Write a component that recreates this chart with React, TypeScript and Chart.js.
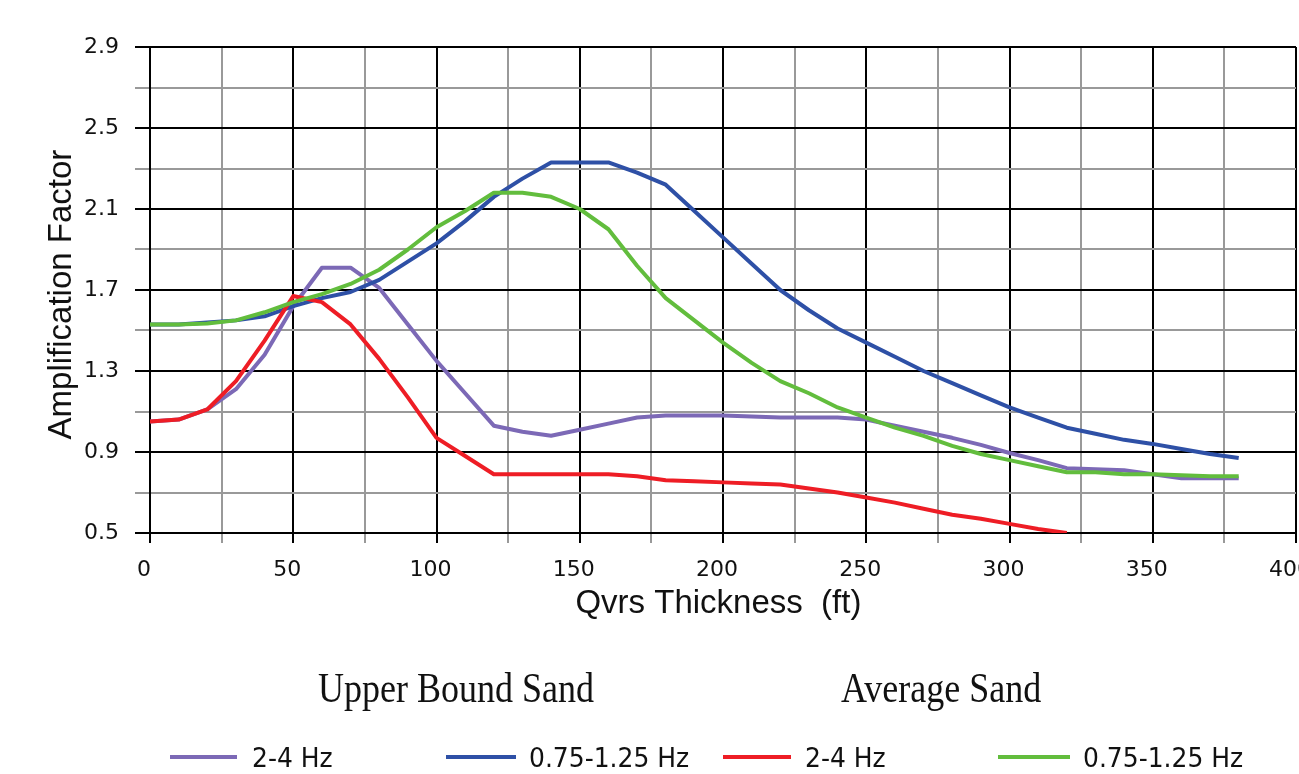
import React, { useEffect, useRef } from "react";
import { Chart, registerables } from "chart.js";

Chart.register(...registerables);

// Qvrs thickness (ft) sample positions
const thickness = [
  0, 10, 20, 30, 40, 50, 60, 70, 80, 90, 100, 110, 120, 130, 140, 150, 160, 170, 180, 190,
  200, 210, 220, 230, 240, 250, 260, 270, 280, 290, 300, 310, 320, 330, 340, 350, 360, 370, 380,
];
const averageThickness = [
  0, 10, 20, 30, 40, 50, 60, 70, 80, 90, 100, 110, 120, 130, 140, 150, 160, 170, 180, 190,
  200, 210, 220, 230, 240, 250, 260, 270, 280, 290, 300, 310, 320,
];

// Upper Bound Sand, 2-4 Hz
const upper24 = [
  1.05, 1.06, 1.11, 1.21, 1.38, 1.62, 1.81, 1.81, 1.71, 1.53, 1.35, 1.19, 1.03, 1.0, 0.98,
  1.01, 1.04, 1.07, 1.08, 1.08, 1.08, 1.075, 1.07, 1.07, 1.07, 1.06, 1.03, 1.0, 0.97, 0.935,
  0.895, 0.86, 0.82, 0.815, 0.81, 0.79, 0.77, 0.77, 0.77,
];
// Upper Bound Sand, 0.75-1.25 Hz
const upper075 = [
  1.53, 1.53, 1.54, 1.55, 1.57, 1.62, 1.66, 1.69, 1.75, 1.84, 1.93, 2.04, 2.16, 2.25, 2.33,
  2.33, 2.33, 2.28, 2.22, 2.09, 1.96, 1.83, 1.7, 1.6, 1.51, 1.44, 1.37, 1.3, 1.24, 1.18, 1.12,
  1.07, 1.02, 0.99, 0.96, 0.94, 0.915, 0.89, 0.87,
];
// Average Sand, 2-4 Hz
const average24 = [
  1.05, 1.06, 1.11, 1.25, 1.45, 1.67, 1.64, 1.53, 1.36, 1.17, 0.97, 0.88, 0.79, 0.79, 0.79,
  0.79, 0.79, 0.78, 0.76, 0.755, 0.75, 0.745, 0.74, 0.72, 0.7, 0.675, 0.65, 0.62, 0.59, 0.57,
  0.545, 0.52, 0.5,
];
// Average Sand, 0.75-1.25 Hz
const average075 = [
  1.53, 1.53, 1.535, 1.55, 1.59, 1.64, 1.68, 1.73, 1.8, 1.9, 2.01, 2.09, 2.18, 2.18, 2.16,
  2.1, 2.0, 1.82, 1.66, 1.55, 1.44, 1.34, 1.25, 1.19, 1.12, 1.07, 1.02, 0.98, 0.93, 0.89,
  0.86, 0.83, 0.8, 0.8, 0.79, 0.79, 0.785, 0.78, 0.78,
];

const seriesLabels = ["2-4 Hz", "0.75-1.25 Hz", "2-4 Hz", "0.75-1.25 Hz"];
const groupTitles = ["Upper Bound Sand", "Average Sand"];
const xTitle = "Qvrs Thickness  (ft) ";
const yTitle = "Amplification Factor ";

const COLORS = ["#7c69b6", "#2e50a6", "#ee1d25", "#62bd3d"];

const toPoints = (xs: number[], ys: number[]) => ys.map((y, i) => ({ x: xs[i], y }));

const legendPlugin = {
  id: "customLegend",
  afterDraw(chart: any) {
    const ctx = chart.ctx as CanvasRenderingContext2D;
    ctx.save();
    // group titles
    ctx.fillStyle = "#111";
    ctx.font = "36px 'Liberation Serif'";
    ctx.textAlign = "center";
    ctx.textBaseline = "alphabetic";
    const groupCenters = [456, 941];
    groupTitles.forEach((t, i) => {
      ctx.save();
      ctx.translate(groupCenters[i], 702);
      ctx.scale(1, 1.18);
      ctx.fillText(t, 0, 0);
      ctx.restore();
    });
    // legend items
    const items = [
      { l0: 170, l1: 237, tx: 252 },
      { l0: 446, l1: 516, tx: 529 },
      { l0: 723, l1: 791, tx: 805 },
      { l0: 998, l1: 1070, tx: 1083 },
    ];
    ctx.font = "25px 'DejaVu Sans'";
    ctx.textAlign = "left";
    chart.data.datasets.forEach((ds: any, i: number) => {
      const it = items[i];
      ctx.strokeStyle = ds.borderColor;
      ctx.lineWidth = 4;
      ctx.beginPath();
      ctx.moveTo(it.l0, 757);
      ctx.lineTo(it.l1, 757);
      ctx.stroke();
      ctx.fillStyle = "#111";
      ctx.save();
      ctx.translate(it.tx, 767);
      ctx.scale(1, 1.06);
      ctx.fillText(ds.label, 0, 0);
      ctx.restore();
    });
    ctx.restore();
  },
};

export default function App() {
  const ref = useRef<HTMLCanvasElement>(null);
  useEffect(() => {
    const canvas = ref.current;
    if (!canvas) return;
    const chart = new Chart(canvas, {
      type: "line",
      data: {
        datasets: [
          { label: seriesLabels[0], data: toPoints(thickness, upper24), borderColor: COLORS[0], order: 3 },
          { label: seriesLabels[1], data: toPoints(thickness, upper075), borderColor: COLORS[1], order: 2 },
          { label: seriesLabels[2], data: toPoints(averageThickness, average24), borderColor: COLORS[2], order: 1 },
          { label: seriesLabels[3], data: toPoints(thickness, average075), borderColor: COLORS[3], order: 0 },
        ].map((d) => ({
          ...d,
          backgroundColor: d.borderColor,
          borderWidth: 4,
          pointRadius: 0,
          tension: 0,
          fill: false,
          borderJoinStyle: "round" as const,
        })),
      },
      options: {
        responsive: false,
        animation: false,
        devicePixelRatio: 1,
        layout: { padding: { left: 0, top: 47, right: 28, bottom: 141 } },
        plugins: { legend: { display: false }, tooltip: { enabled: false } },
        scales: {
          x: {
            type: "linear",
            min: 0,
            max: 400,
            afterFit: (s: any) => {
              s.height = 100;
            },
            ticks: {
              stepSize: 25,
              autoSkip: false,
              maxRotation: 0,
              labelOffset: -6,
              padding: 14,
              color: "#111",
              font: { family: "'DejaVu Sans'", size: 22 },
              callback: (v: any, i: number) => (i % 2 === 0 ? String(v) : ""),
            },
            grid: {
              color: (c: any) => (c.index % 2 === 0 ? "#000" : "#999"),
              lineWidth: 2,
              tickLength: 10,
            },
            border: { color: "#000", width: 2 },
            title: {
              display: true,
              text: xTitle,
              color: "#111",
              font: { family: "'Liberation Sans'", size: 33 },
              padding: { top: 0, bottom: 9 },
            },
          },
          y: {
            type: "linear",
            min: 0.5,
            max: 2.9,
            afterFit: (s: any) => {
              s.width = 150;
            },
            ticks: {
              stepSize: 0.2,
              autoSkip: false,
              padding: 16,
              color: "#111",
              font: { family: "'DejaVu Sans'", size: 22 },
              callback: (v: any, i: number) => (i % 2 === 0 ? Number(v).toFixed(1) : ""),
            },
            grid: {
              color: (c: any) => (c.index % 2 === 0 ? "#000" : "#999"),
              lineWidth: 2,
              tickLength: 15,
            },
            border: { color: "#000", width: 2 },
            title: {
              display: true,
              text: yTitle,
              color: "#111",
              font: { family: "'Liberation Sans'", size: 33 },
              padding: { top: 42, bottom: 0 },
            },
          },
        },
      },
      plugins: [legendPlugin],
    });
    return () => chart.destroy();
  }, []);
  return (
    <div
      style={{
        position: "fixed",
        left: 0,
        top: 0,
        width: 1299,
        height: 774,
        overflow: "hidden",
        background: "#fff",
      }}
    >
      <canvas ref={ref} width={1331} height={774} style={{ display: "block", width: 1331, height: 774 }} />
    </div>
  );
}
